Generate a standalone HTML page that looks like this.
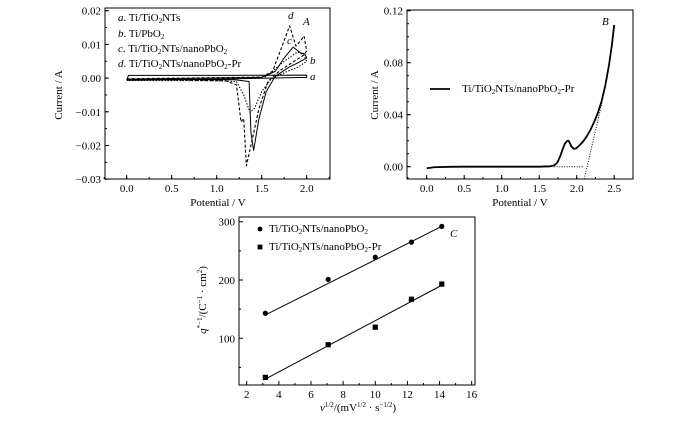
<!DOCTYPE html>
<html><head><meta charset="utf-8"><style>
body{margin:0;background:#fff;}
svg{display:block;font-family:"Liberation Serif",serif;font-size:11px;}
</style></head><body>
<svg id="s" width="700" height="424" viewBox="0 0 700 424" xmlns="http://www.w3.org/2000/svg"></svg>
<script>
// Panel A data (CV curves, [V, A])
const cvA=[[0,-0.0005],[0.02,0.0008],[1.0,0.0008],[2.0,0.0009],[2.0,0.0002],[1.0,-0.0003],[0.02,-0.0005],[0,-0.0005]];
const cvB=[[0,-0.0007],[1.2,-0.0002],[1.55,0.0004],[1.75,0.005],[1.9,0.0078],[1.97,0.0068],[2.0,0.005],[1.9,0.0032],[1.75,0.0016],[1.6,-0.0004],[1.5,-0.004],[1.42,-0.009],[1.37,-0.0102],[1.3,-0.005],[1.22,-0.001],[1.0,-0.0008],[0,-0.0007]];
const cvC=[[0,-0.0003],[1.5,0.0002],[1.65,0.002],[1.75,0.006],[1.85,0.0092],[1.93,0.0075],[1.98,0.0072],[2.0,0.006],[1.9,0.0045],[1.8,0.0032],[1.65,0.0005],[1.55,-0.004],[1.47,-0.012],[1.41,-0.0215],[1.38,-0.016],[1.36,-0.001],[1.2,-0.0005],[0,-0.0004]];
const cvD=[[0,-0.0002],[1.5,0.0003],[1.62,0.002],[1.72,0.009],[1.81,0.0155],[1.88,0.0095],[1.93,0.011],[1.97,0.0125],[2.0,0.008],[1.95,0.0065],[1.85,0.0048],[1.7,0.0022],[1.57,-0.001],[1.47,-0.009],[1.38,-0.02],[1.33,-0.026],[1.3,-0.012],[1.27,-0.013],[1.22,-0.002],[1.1,-0.0008],[0,-0.0004]];
// Panel B data (LSV)
const lsvX=[0,0.05,0.1,0.3,0.5,1.0,1.5,1.65,1.7,1.74,1.78,1.81,1.84,1.87,1.89,1.91,1.93,1.96,1.99,2.03,2.08,2.13,2.18,2.23,2.28,2.33,2.38,2.43,2.47,2.5];
const lsvY=[-0.0012,-0.0008,-0.0004,-0.0001,0,0,0,0.0003,0.001,0.003,0.008,0.013,0.0175,0.0197,0.020,0.018,0.0155,0.0138,0.014,0.016,0.019,0.023,0.028,0.034,0.041,0.05,0.062,0.078,0.094,0.109];
// Panel C data
const cX=[3.16,7.07,10,12.25,14.14];
const cCircle=[143,201,239,265,292];
const cSquare=[33,89,119,167,193];
const fitCircle=[140,292];
const fitSquare=[30,191];
const NS="http://www.w3.org/2000/svg";
const s=document.getElementById('s');
function el(t,a,p){const e=document.createElementNS(NS,t);for(const k in a)e.setAttribute(k,a[k]);(p||s).appendChild(e);return e;}
function txt(x,y,str,a,name){const e=el('text',Object.assign({x:x,y:y},a||{}));e.innerHTML=str;return e;}
function frame(x0,y0,x1,y1,name){const r=el('rect',{x:x0,y:y0,width:x1-x0,height:y1-y0,fill:'none',stroke:'#000','stroke-width':1});}
function line(x1,y1,x2,y2,w,dash,name){const l=el('line',{x1,y1,x2,y2,stroke:'#000','stroke-width':w||1});if(dash)l.setAttribute('stroke-dasharray',dash);return l;}
function poly(pts,w,dash,name){const p=el('polyline',{points:pts.map(q=>q.join(',')).join(' '),fill:'none',stroke:'#000','stroke-width':w,'stroke-linejoin':'round'});if(dash)p.setAttribute('stroke-dasharray',dash);return p;}

// ---- Panel A ----
const ax=v=>126.7+v*90, ay=v=>10.7+(0.02-v)/0.01*33.7;
frame(105,8,330,179,'panel-a-frame');
[0,0.5,1.0,1.5,2.0].forEach(v=>{line(ax(v),179,ax(v),175);txt(ax(v),192,v.toFixed(1),{'text-anchor':'middle'},'x-tick-label');});
for(let v=-0.25;v<2.3;v+=0.25){line(ax(v),179,ax(v),177);}
[0.02,0.01,0,-0.01,-0.02,-0.03].forEach(v=>{line(105,ay(v),109,ay(v));txt(101,ay(v)+4,(v<0?'\u2212':'')+Math.abs(v).toFixed(2),{'text-anchor':'end'},'y-tick-label');});
for(let v=-0.03;v<0.021;v+=0.005)line(105,ay(v),107,ay(v));
poly(cvA.map(p=>[ax(p[0]),ay(p[1])]),1,null,'curve-a');
poly(cvB.map(p=>[ax(p[0]),ay(p[1])]),1,'1.5,1.5','curve-b');
poly(cvC.map(p=>[ax(p[0]),ay(p[1])]),1,null,'curve-c');
poly(cvD.map(p=>[ax(p[0]),ay(p[1])]),1.1,'3,2','curve-d');
txt(118,21,'<tspan font-style="italic">a</tspan>. Ti/TiO<tspan font-size="7" dy="2">2</tspan><tspan dy="-2">NTs</tspan>',{},'legend-a');
txt(118,37,'<tspan font-style="italic">b</tspan>. Ti/PbO<tspan font-size="7" dy="2">2</tspan>',{},'legend-b');
txt(118,52,'<tspan font-style="italic">c</tspan>. Ti/TiO<tspan font-size="7" dy="2">2</tspan><tspan dy="-2">NTs/nanoPbO</tspan><tspan font-size="7" dy="2">2</tspan>',{},'legend-c');
txt(118,67,'<tspan font-style="italic">d</tspan>. Ti/TiO<tspan font-size="7" dy="2">2</tspan><tspan dy="-2">NTs/nanoPbO</tspan><tspan font-size="7" dy="2">2</tspan><tspan dy="-2">-Pr</tspan>',{},'legend-d');
txt(310,80,'a',{'font-style':'italic'},'label-a');
txt(310,64,'b',{'font-style':'italic'},'label-b');
txt(287,44,'c',{'font-style':'italic'},'label-c');
txt(288,19,'d',{'font-style':'italic'},'label-d');
txt(303,25,'A',{'font-style':'italic'},'panel-a-label');
txt(62,95,'Current / A',{'text-anchor':'middle',transform:'rotate(-90 62 95)'},'panel-a-y-title');
txt(218,206,'Potential / V',{'text-anchor':'middle'},'panel-a-x-title');

// ---- Panel B ----
const bx=v=>426.7+v*75, by=v=>166.7-v/0.04*52;
frame(407,10,633,179,'panel-b-frame');
[0,0.5,1.0,1.5,2.0,2.5].forEach(v=>{line(bx(v),179,bx(v),175);txt(bx(v),192,v.toFixed(1),{'text-anchor':'middle'},'x-tick-label');});
for(let v=-0.25;v<2.8;v+=0.25)line(bx(v),179,bx(v),177);
[0,0.04,0.08,0.12].forEach(v=>{line(407,by(v),411,by(v));txt(403,by(v)+4,v.toFixed(2),{'text-anchor':'end'},'y-tick-label');});
for(let v=0;v<0.125;v+=0.01)line(407,by(v),409,by(v));
line(bx(1.7),by(0),bx(2.1),by(0),1,'1,1.5','baseline-tangent');
line(bx(2.1),179,bx(2.34),by(0.05),1,'1,1.5','slope-tangent');
poly(lsvX.map((x,i)=>[bx(x),by(lsvY[i])]),1.8,null,'lsv-curve');
line(430,89,450,89,1.8,null,'legend-line');
txt(462,92,'Ti/TiO<tspan font-size="7" dy="2">2</tspan><tspan dy="-2">NTs/nanoPbO</tspan><tspan font-size="7" dy="2">2</tspan><tspan dy="-2">-Pr</tspan>',{},'legend-text');
txt(602,25,'B',{'font-style':'italic'},'panel-b-label');
txt(378,95,'Current / A',{'text-anchor':'middle',transform:'rotate(-90 378 95)'},'panel-b-y-title');
txt(520,206,'Potential / V',{'text-anchor':'middle'},'panel-b-x-title');

// ---- Panel C ----
const cx=v=>246.7+(v-2)*16.07, cy=v=>338.3-(v-100)*0.583;
frame(239,217,475,385,'panel-c-frame');
[2,4,6,8,10,12,14,16].forEach(v=>{line(cx(v),385,cx(v),381);txt(cx(v),398,v,{'text-anchor':'middle'},'x-tick-label');});
for(let v=3;v<16;v+=2)line(cx(v),385,cx(v),383);
[100,200,300].forEach(v=>{line(239,cy(v),243,cy(v));txt(235,cy(v)+4,v,{'text-anchor':'end'},'y-tick-label');});
[50,150,250].forEach(v=>line(239,cy(v),241,cy(v)));
line(cx(cX[0]),cy(fitCircle[0]),cx(cX[4]),cy(fitCircle[1]),1,null,'fit-line-nanopbo2');
line(cx(cX[0]),cy(fitSquare[0]),cx(cX[4]),cy(fitSquare[1]),1,null,'fit-line-nanopbo2-pr');
cX.forEach((x,i)=>{const c=el('circle',{cx:cx(x),cy:cy(cCircle[i]),r:2.6,fill:'#000'});
const r=el('rect',{x:cx(x)-2.6,y:cy(cSquare[i])-2.6,width:5.2,height:5.2,fill:'#000'});});
const lc=el('circle',{cx:260,cy:229,r:2.4,fill:'#000'});
txt(269,232,'Ti/TiO<tspan font-size="7" dy="2">2</tspan><tspan dy="-2">NTs/nanoPbO</tspan><tspan font-size="7" dy="2">2</tspan>',{},'legend-nanopbo2');
const ls=el('rect',{x:257.6,y:244.6,width:4.8,height:4.8,fill:'#000'});
txt(269,250,'Ti/TiO<tspan font-size="7" dy="2">2</tspan><tspan dy="-2">NTs/nanoPbO</tspan><tspan font-size="7" dy="2">2</tspan><tspan dy="-2">-Pr</tspan>',{},'legend-nanopbo2-pr');
txt(450,237,'C',{'font-style':'italic'},'panel-c-label');
txt(206,300,'<tspan font-style="italic">q</tspan><tspan font-size="7" dy="-4">*−1</tspan><tspan dy="4">/(C</tspan><tspan font-size="7" dy="-4">−1</tspan><tspan dy="4"> · cm</tspan><tspan font-size="7" dy="-4">2</tspan><tspan dy="4">)</tspan>',{'text-anchor':'middle',transform:'rotate(-90 206 300)'},'panel-c-y-title');
txt(358,411,'<tspan font-style="italic">v</tspan><tspan font-size="7" dy="-4">1/2</tspan><tspan dy="4">/(mV</tspan><tspan font-size="7" dy="-4">1/2</tspan><tspan dy="4"> · s</tspan><tspan font-size="7" dy="-4">−1/2</tspan><tspan dy="4">)</tspan>',{'text-anchor':'middle'},'panel-c-x-title');
</script>
</body></html>
